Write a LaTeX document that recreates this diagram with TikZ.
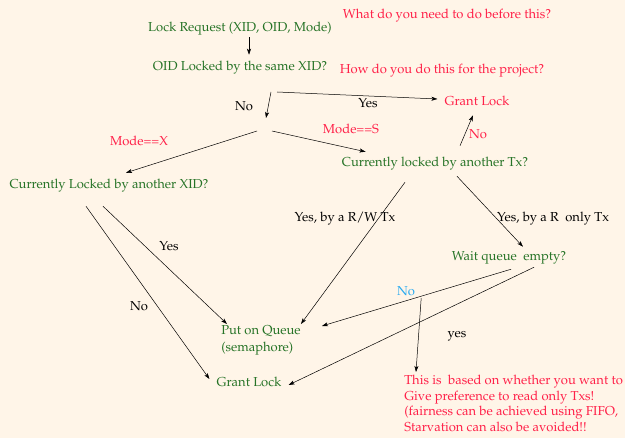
\documentclass[tikz,border=0pt]{standalone}
\usepackage[T1]{fontenc}
\usepackage{mathpazo}
\usetikzlibrary{arrows.meta}
\definecolor{bgcream}{RGB}{255,245,232}
\definecolor{testgreen}{RGB}{38,115,38}
\definecolor{notered}{RGB}{255,32,72}
\definecolor{noblue}{RGB}{40,170,240}

\begin{document}
\begin{tikzpicture}[x=1pt,y=-1pt,line width=0.5pt,
    >={Stealth[length=6pt,width=4pt,inset=1.5pt]},
    every node/.style={inner sep=0pt,font=\fontsize{13}{15.6}\selectfont},
    lbl/.style={text height=9pt,text depth=3pt},
    test/.style={lbl,text=testgreen},
    remark/.style={lbl,text=notered},
    answer/.style={lbl,text=black}]
    \fill[bgcream] (0,0) rectangle (625,438);
    \useasboundingbox (0,0) rectangle (625,438);

    \node[test] (req) at (240,29) {Lock Request (XID, OID, Mode)};
    \node[remark] (q1) at (447,16) {What do you need to do before this?};
    \node[test] (oid) at (240,68) {OID Locked by the same XID?};
    \node[remark] (q2) at (442,71) {How do you do this for the project?};
    \node[answer] (no1) at (244,108) {No};
    \node[answer] (yes1) at (368,105) {Yes};
    \node[remark] (grant1) at (477,103) {Grant Lock};
    \node[remark] (modex) at (139,143) {Mode==X};
    \node[remark] (modes) at (351,131) {Mode==S};
    \node[remark] (no2) at (478,136) {No};
    \node[test] (tx) at (435,164) {Currently locked by another Tx?};
    \node[test] (xid) at (109,186) {Currently Locked by another XID?};
    \node[answer] (yes2) at (169,248) {Yes};
    \node[answer] (no3) at (139,308) {No};
    \node[answer] (rw) at (345,219) {Yes, by a R/W Tx};
    \node[answer] (ro) at (553,219) {Yes, by a R\ \ only Tx};
    \node[test] (wait) at (509,258) {Wait queue\ \ empty?};
    \node[lbl,text=noblue] (no4) at (406,293) {No};
    \node[answer] (yes3) at (457,335) {yes};
    \node[text=testgreen,align=left,anchor=north west,
      font=\fontsize{13}{17.4}\selectfont] (queue) at (221,325)
      {Put on Queue\\(semaphore)};
    \node[test] (grant2) at (249,384) {Grant Lock};
    \node[text=notered,align=left,anchor=north west] (note) at (404,375)
      {This is\ \ based on whether you want to\\
       Give preference to read only Txs!\\
       (fairness can be achieved using FIFO,\\
       Starvation can also be avoided!!};

    \coordinate (fork) at (274,92);
    \coordinate (split) at (264,131);

    \draw[->] ([shift={(9,2)}]req.south) -- ([shift={(9,-7)}]oid.north);
    \draw[->] ([xshift=-3]fork) -- ([shift={(2,-13)}]split);
    \draw[->] ([xshift=3]fork) -- ([shift={(-7,-4)}]grant1.west);
    \draw[->] ([xshift=-7]split) -- ([shift={(17,-7)}]xid.north);
    \draw[->] ([xshift=8]split) -- ([shift={(24,-6)}]tx.north west);
    \draw[->] ([shift={(25,-12)}]tx.north) -- ([shift={(-4,6)}]grant1.south);
    \draw[->] ([shift={(-6,14)}]xid.south) -- ([shift={(6,-1)}]queue.north west);
    \draw[->] ([shift={(-23,14)}]xid.south) -- ([shift={(-7,-5)}]grant2.west);
    \draw[->] ([shift={(-30,12)}]tx.south) -- ([shift={(0,-1)}]queue.north east);
    \draw[->] ([shift={(22,6)}]tx.south) -- ([shift={(14,-5)}]wait.north);
    \draw[->] ([shift={(2,5)}]wait.south) -- ([shift={(21,1)}]queue.north east);
    \draw[->] ([shift={(25,3)}]wait.south) -- ([shift={(7,1)}]grant2.east);
    \draw[->] ([shift={(6,5)}]no4.east) -- ([shift={(12,-3)}]note.north west);
\end{tikzpicture}
\end{document}
